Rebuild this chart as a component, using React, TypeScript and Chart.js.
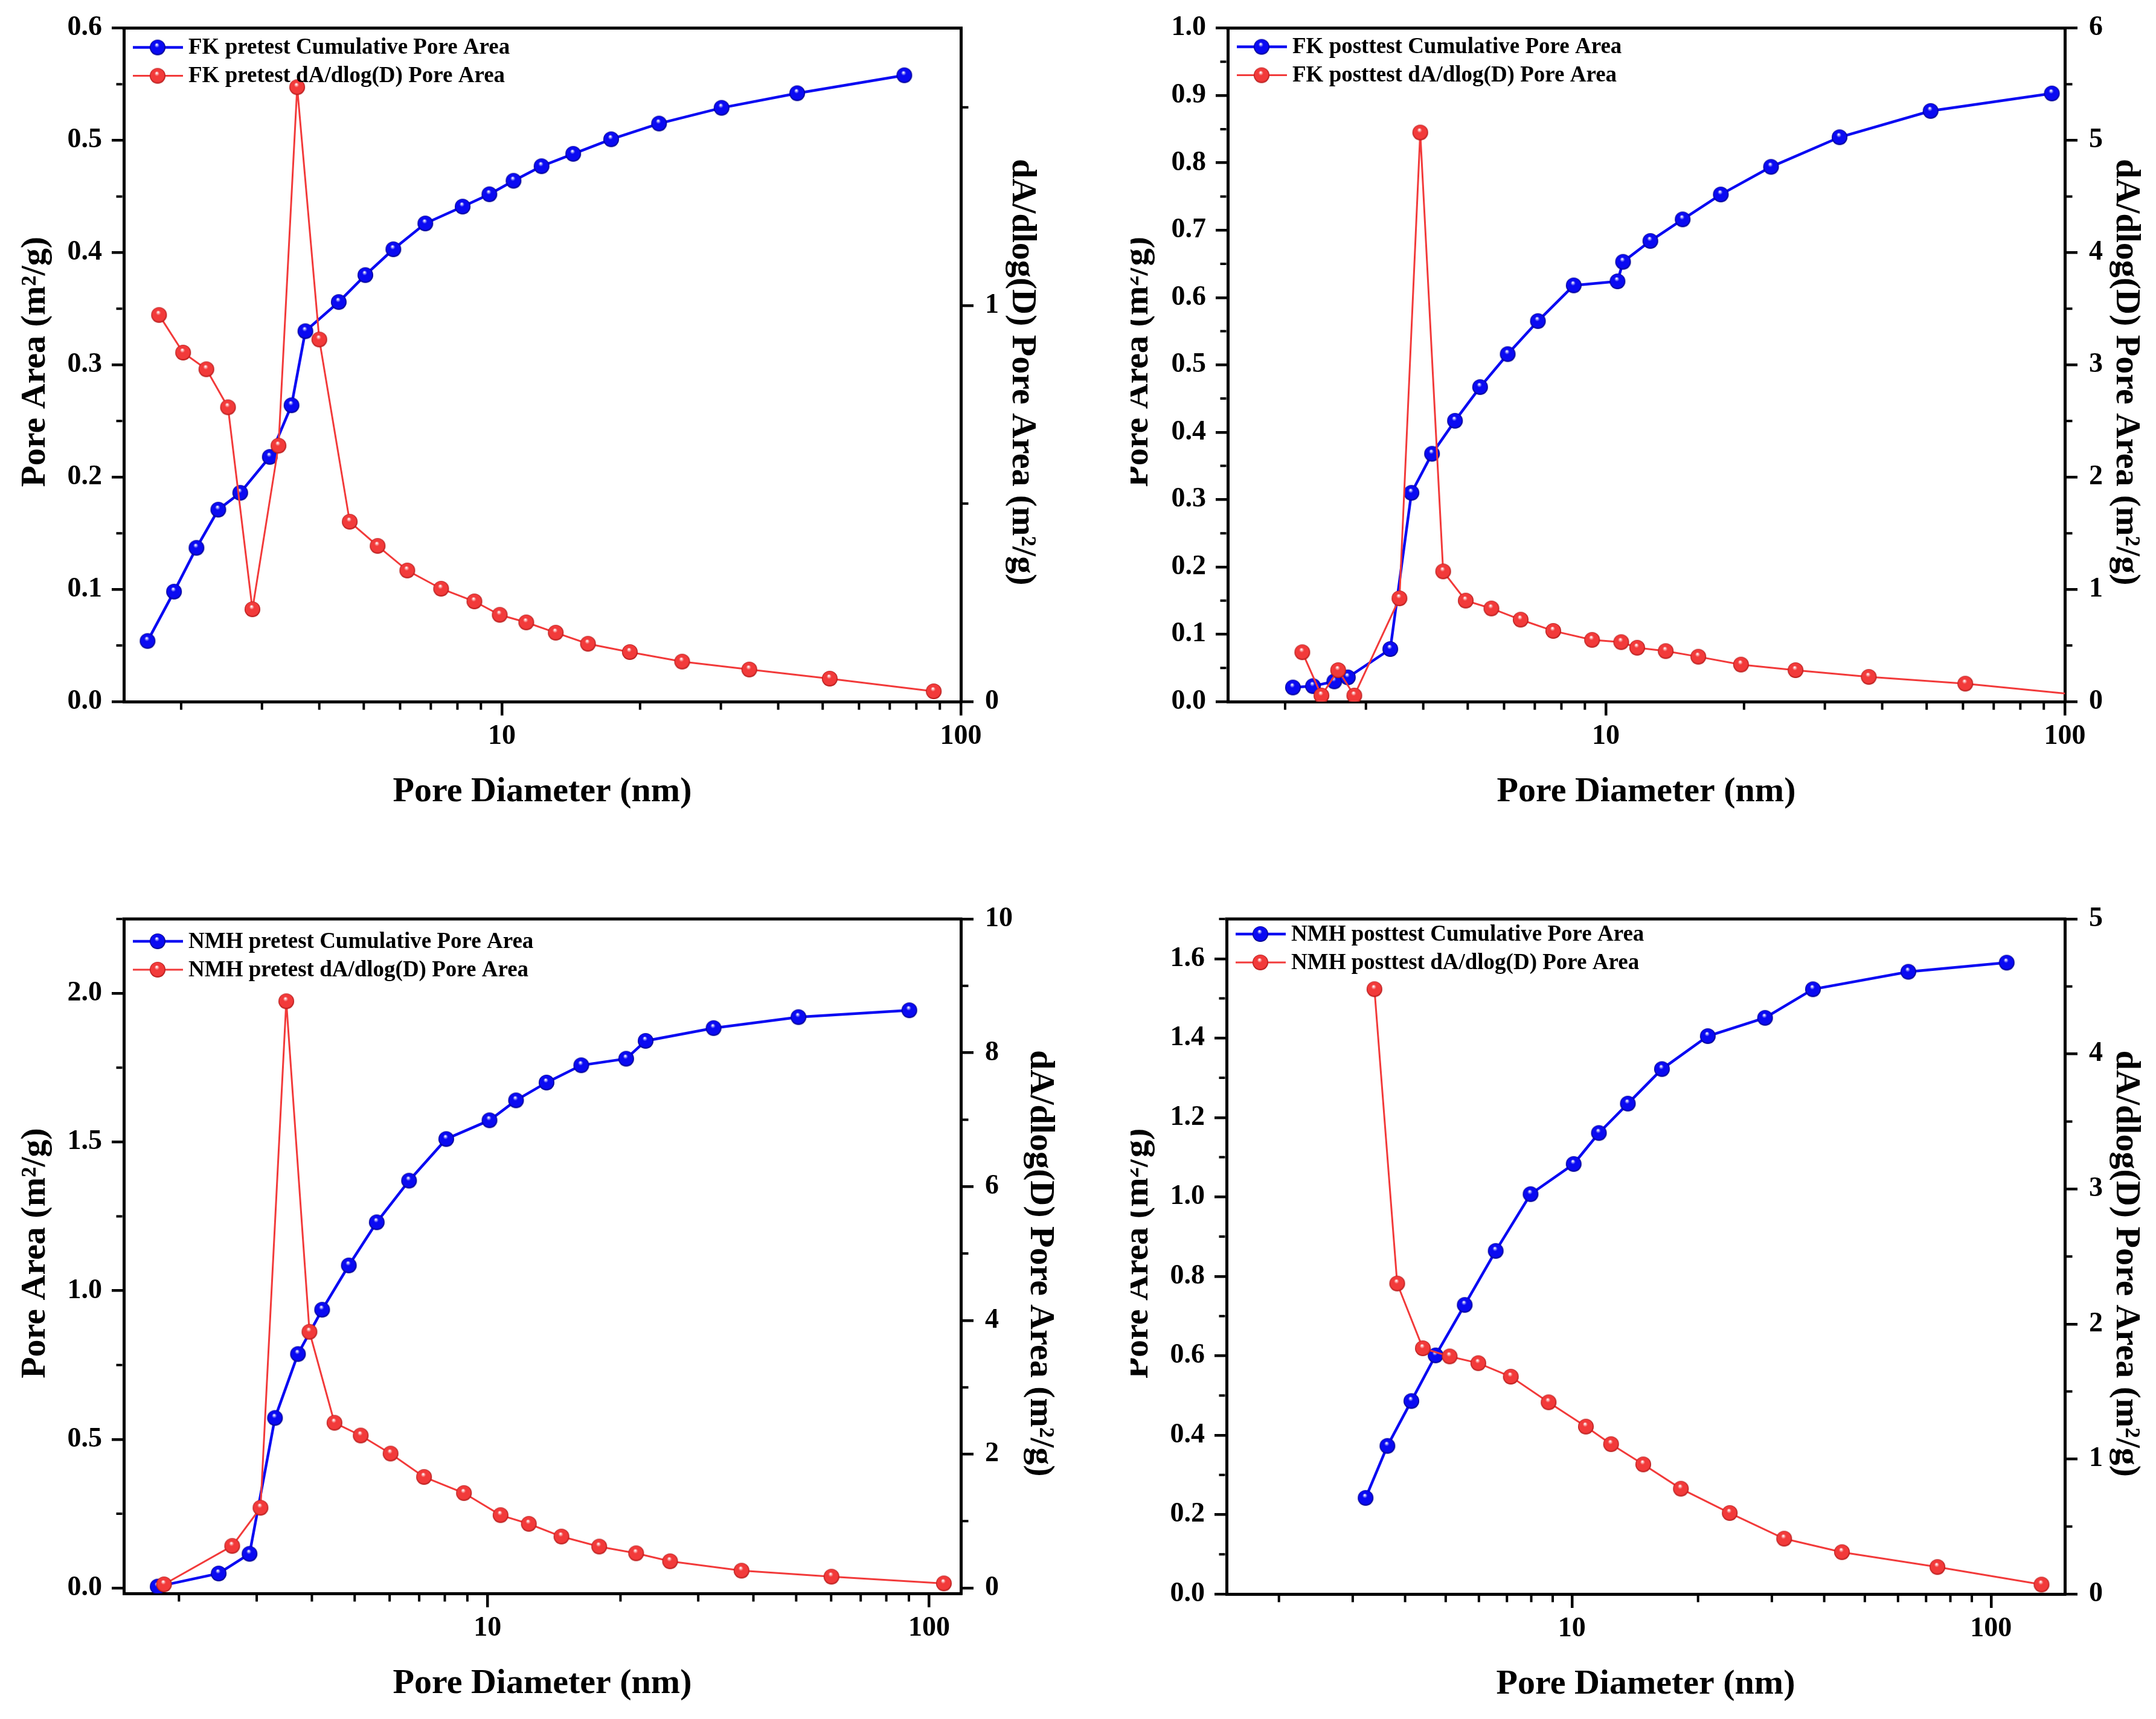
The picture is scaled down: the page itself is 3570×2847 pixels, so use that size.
import React, { useEffect, useRef } from 'react';
import { Chart, registerables } from 'chart.js';

Chart.register(...registerables);

const FONT = "'Liberation Serif', 'Times New Roman', Times, serif";
const BLUE = '#0a0af2';
const BLUE_DARK = '#00007a';
const RED = '#f23a3a';
const RED_DARK = '#a81414';

// ---------- Tick labels ----------
const X_MAJOR_TICKS = [10, 100];
const X_MINOR_TICKS = [2, 3, 4, 5, 6, 7, 8, 9, 20, 30, 40, 50, 60, 70, 80, 90];
const X_TITLE = 'Pore Diameter (nm)';
const Y_TITLE = 'Pore Area (m\u00B2/g)';
const Y1_TITLE = 'dA/dlog(D) Pore Area (m\u00B2/g)';

// ---------- FK pretest ----------
const fkPreCumX = [1.69, 1.93, 2.16, 2.41, 2.69, 3.12, 3.48, 3.73, 4.41, 5.04, 5.8, 6.81, 8.21, 9.39, 10.6, 12.2, 14.3, 17.3, 22.0, 30.1, 44.0, 75.3];
const fkPreCumY = [0.054, 0.098, 0.137, 0.171, 0.186, 0.218, 0.264, 0.33, 0.356, 0.38, 0.403, 0.426, 0.441, 0.452, 0.464, 0.477, 0.488, 0.501, 0.515, 0.529, 0.542, 0.558];
const fkPreDifX = [1.79, 2.02, 2.27, 2.53, 2.86, 3.26, 3.58, 4.0, 4.66, 5.36, 6.22, 7.37, 8.71, 9.89, 11.3, 13.1, 15.4, 19.0, 24.7, 34.6, 51.8, 87.3];
const fkPreDifY = [0.976, 0.881, 0.839, 0.743, 0.233, 0.646, 1.551, 0.914, 0.454, 0.393, 0.331, 0.285, 0.253, 0.219, 0.2, 0.174, 0.146, 0.125, 0.101, 0.081, 0.058, 0.026];

// ---------- FK posttest ----------
const fkPostCumX = [2.08, 2.3, 2.56, 2.74, 3.39, 3.77, 4.18, 4.69, 5.32, 6.11, 7.11, 8.51, 10.6, 10.9, 12.5, 14.7, 17.8, 22.9, 32.3, 51.0, 93.7];
const fkPostCumY = [0.021, 0.023, 0.03, 0.036, 0.078, 0.31, 0.368, 0.417, 0.467, 0.516, 0.565, 0.618, 0.624, 0.653, 0.684, 0.716, 0.753, 0.794, 0.838, 0.877, 0.903];
const fkPostDifX = [2.18, 2.4, 2.61, 2.83, 3.55, 3.94, 4.42, 4.95, 5.63, 6.52, 7.68, 9.33, 10.8, 11.7, 13.5, 15.9, 19.7, 25.9, 37.4, 60.7, 112];
const fkPostDifY = [0.44, 0.054, 0.28, 0.054, 0.92, 5.07, 1.16, 0.9, 0.83, 0.73, 0.63, 0.55, 0.53, 0.48, 0.45, 0.4, 0.33, 0.28, 0.22, 0.16, 0.053];

// ---------- NMH pretest ----------
const nmhPreCumX = [1.79, 2.46, 2.89, 3.3, 3.72, 4.22, 4.85, 5.61, 6.64, 8.06, 10.1, 11.6, 13.6, 16.3, 20.6, 22.8, 32.5, 50.6, 90.2];
const nmhPreCumY = [0.005, 0.049, 0.115, 0.572, 0.787, 0.936, 1.085, 1.23, 1.37, 1.51, 1.573, 1.64, 1.7, 1.758, 1.78, 1.84, 1.883, 1.92, 1.943];
const nmhPreDifX = [1.85, 2.64, 3.06, 3.5, 3.95, 4.5, 5.16, 6.03, 7.18, 8.84, 10.7, 12.4, 14.7, 17.9, 21.7, 25.9, 37.6, 60.1, 108];
const nmhPreDifY = [0.055, 0.63, 1.2, 8.77, 3.83, 2.47, 2.28, 2.01, 1.66, 1.42, 1.09, 0.96, 0.77, 0.62, 0.52, 0.4, 0.26, 0.17, 0.07];

// ---------- NMH posttest ----------
const nmhPostCumX = [3.22, 3.63, 4.14, 4.73, 5.55, 6.58, 7.97, 10.1, 11.6, 13.6, 16.4, 21.1, 28.9, 37.6, 63.5, 109];
const nmhPostCumY = [0.242, 0.373, 0.486, 0.601, 0.728, 0.864, 1.007, 1.083, 1.161, 1.235, 1.322, 1.405, 1.451, 1.523, 1.567, 1.59];
const nmhPostDifX = [3.38, 3.83, 4.41, 5.11, 5.98, 7.15, 8.8, 10.8, 12.4, 14.8, 18.2, 23.8, 32.1, 44.1, 74.5, 132];
const nmhPostDifY = [4.48, 2.3, 1.82, 1.76, 1.71, 1.61, 1.42, 1.24, 1.11, 0.96, 0.78, 0.6, 0.41, 0.31, 0.2, 0.07];

type Panel = {
  cx: number; cy: number; cw: number; ch: number;
  pl: number; pr: number; pt: number; pb: number;
  xMin: number; xMax: number;
  yMin: number; yMax: number; yStep: number; yMinor: number; yDec: number;
  y1Min: number; y1Max: number; y1Step: number; y1Minor: number;
  cumLabel: string; difLabel: string;
  cumX: number[]; cumY: number[]; difX: number[]; difY: number[];
  legendRows: [number, number];
  leftTitleOff: number;
  rightTitleOff: number;
};

const PANELS: Panel[] = [
  {
    cx: 0, cy: 0, cw: 1785, ch: 1423, pl: 205, pr: 1591, pt: 46, pb: 1162,
    xMin: 1.5, xMax: 100,
    yMin: 0, yMax: 0.6, yStep: 0.1, yMinor: 0.05, yDec: 1,
    y1Min: 0, y1Max: 1.7, y1Step: 1, y1Minor: 0.5,
    cumLabel: 'FK pretest Cumulative Pore Area', difLabel: 'FK pretest dA/dlog(D) Pore Area',
    cumX: fkPreCumX, cumY: fkPreCumY, difX: fkPreDifX, difY: fkPreDifY,
    legendRows: [32, 79], leftTitleOff: 131, rightTitleOff: 86,
  },
  {
    cx: 1872, cy: 0, cw: 1698, ch: 1423, pl: 2033, pr: 3419, pt: 46, pb: 1162,
    xMin: 1.5, xMax: 100,
    yMin: 0, yMax: 1.0, yStep: 0.1, yMinor: 0.05, yDec: 1,
    y1Min: 0, y1Max: 6, y1Step: 1, y1Minor: 0.5,
    cumLabel: 'FK posttest Cumulative Pore Area', difLabel: 'FK posttest dA/dlog(D) Pore Area',
    cumX: fkPostCumX, cumY: fkPostCumY, difX: fkPostDifX, difY: fkPostDifY,
    legendRows: [31, 78], leftTitleOff: 133, rightTitleOff: 86,
  },
  {
    cx: 0, cy: 1423, cw: 1785, ch: 1424, pl: 205, pr: 1591, pt: 1522, pb: 2639,
    xMin: 1.5, xMax: 118,
    yMin: -0.018, yMax: 2.25, yStep: 0.5, yMinor: 0.25, yDec: 1,
    y1Min: -0.08, y1Max: 10, y1Step: 2, y1Minor: 1,
    cumLabel: 'NMH pretest Cumulative Pore Area', difLabel: 'NMH pretest dA/dlog(D) Pore Area',
    cumX: nmhPreCumX, cumY: nmhPreCumY, difX: nmhPreDifX, difY: nmhPreDifY,
    legendRows: [37, 84], leftTitleOff: 131, rightTitleOff: 116,
  },
  {
    cx: 1872, cy: 1423, cw: 1698, ch: 1424, pl: 2031, pr: 3419, pt: 1522, pb: 2640,
    xMin: 1.5, xMax: 150,
    yMin: 0, yMax: 1.7, yStep: 0.2, yMinor: 0.1, yDec: 1,
    y1Min: 0, y1Max: 5, y1Step: 1, y1Minor: 0.5,
    cumLabel: 'NMH posttest Cumulative Pore Area', difLabel: 'NMH posttest dA/dlog(D) Pore Area',
    cumX: nmhPostCumX, cumY: nmhPostCumY, difX: nmhPostDifX, difY: nmhPostDifY,
    legendRows: [25, 72], leftTitleOff: 131, rightTitleOff: 86,
  },
];

function sphere(color: string, dark: string, r: number): HTMLCanvasElement {
  const s = Math.ceil(r * 2 + 2);
  const c = document.createElement('canvas');
  c.width = s;
  c.height = s;
  const ctx = c.getContext('2d')!;
  const cx = s / 2;
  const cy = s / 2;
  const g = ctx.createRadialGradient(cx - r * 0.12, cy - r * 0.38, r * 0.04, cx, cy, r);
  g.addColorStop(0, '#ffffff');
  g.addColorStop(0.28, color);
  g.addColorStop(0.82, color);
  g.addColorStop(1, dark);
  ctx.fillStyle = g;
  ctx.beginPath();
  ctx.arc(cx, cy, r, 0, Math.PI * 2);
  ctx.fill();
  return c;
}

function stepValues(min: number, max: number, step: number): number[] {
  const out: number[] = [];
  const start = Math.ceil(min / step - 1e-9);
  for (let k = start; k * step <= max + 1e-9; k++) out.push(Math.round(k * step * 1e6) / 1e6);
  return out;
}

function minorValues(min: number, max: number, minor: number, major: number): number[] {
  return stepValues(min, max, minor).filter((v) => Math.abs(v / major - Math.round(v / major)) > 1e-6);
}

const AXIS_W = 5;

function buildConfig(p: Panel): any {
  const lpl = p.pl - p.cx;
  const lpr = p.pr - p.cx;
  const lpt = p.pt - p.cy;
  const lpb = p.pb - p.cy;
  const blueBall = sphere(BLUE, BLUE_DARK, 13);
  const redBall = sphere(RED, RED_DARK, 13);
  const tickFont = { family: FONT, size: 46, weight: 'bold' as const };

  const yMajor = stepValues(p.yMin, p.yMax, p.yStep);
  const y1Major = stepValues(p.y1Min, p.y1Max, p.y1Step);
  const yMinorT = minorValues(p.yMin, p.yMax, p.yMinor, p.yStep);
  const y1MinorT = minorValues(p.y1Min, p.y1Max, p.y1Minor, p.y1Step);
  const xMajor = X_MAJOR_TICKS.filter((v) => v >= p.xMin && v <= p.xMax);
  const xMinorT = X_MINOR_TICKS.filter((v) => v > p.xMin && v < p.xMax);

  const grid = (len: number) => ({
    display: true,
    drawOnChartArea: false,
    drawTicks: true,
    tickLength: len,
    lineWidth: 4.5,
    tickWidth: 4.5,
    color: '#000',
    tickColor: '#000',
  });
  const border = { display: true, color: '#000', width: AXIS_W };

  const decor = {
    id: 'decor' + p.cx + '_' + p.cy,
    afterDraw(chart: any) {
      const ctx = chart.ctx as CanvasRenderingContext2D;
      const a = chart.chartArea;
      const sx = chart.scales.x;
      const sy = chart.scales.y;
      const sy1 = chart.scales.y1;
      ctx.save();
      ctx.strokeStyle = '#000';
      // top frame
      ctx.lineWidth = AXIS_W;
      ctx.beginPath();
      ctx.moveTo(a.left - AXIS_W / 2, a.top);
      ctx.lineTo(a.right + AXIS_W / 2, a.top);
      ctx.stroke();
      // minor ticks
      ctx.lineWidth = 4;
      ctx.beginPath();
      for (const v of xMinorT) {
        const px = sx.getPixelForValue(v);
        ctx.moveTo(px, a.bottom + AXIS_W / 2);
        ctx.lineTo(px, a.bottom + AXIS_W / 2 + 11);
      }
      for (const v of yMinorT) {
        const py = sy.getPixelForValue(v);
        ctx.moveTo(a.left - AXIS_W / 2, py);
        ctx.lineTo(a.left - AXIS_W / 2 - 10, py);
      }
      for (const v of y1MinorT) {
        const py = sy1.getPixelForValue(v);
        ctx.moveTo(a.right + AXIS_W / 2, py);
        ctx.lineTo(a.right + AXIS_W / 2 + 10, py);
      }
      ctx.stroke();

      // legend
      const ds = chart.data.datasets;
      const rows = [
        { d: ds[1], y: a.top + p.legendRows[0], img: blueBall },
        { d: ds[0], y: a.top + p.legendRows[1], img: redBall },
      ];
      ctx.font = `bold 37px ${FONT}`;
      ctx.textAlign = 'left';
      ctx.textBaseline = 'middle';
      for (const r of rows) {
        ctx.strokeStyle = r.d.borderColor;
        ctx.lineWidth = r.d.borderWidth;
        ctx.beginPath();
        ctx.moveTo(a.left + 15, r.y);
        ctx.lineTo(a.left + 98, r.y);
        ctx.stroke();
        ctx.drawImage(r.img, a.left + 56 - r.img.width / 2, r.y - r.img.height / 2);
        ctx.fillStyle = '#000';
        ctx.fillText(r.d.label, a.left + 107, r.y + 1);
      }

      // axis titles
      ctx.fillStyle = '#000';
      ctx.font = `bold 58px ${FONT}`;
      ctx.textAlign = 'center';
      ctx.textBaseline = 'middle';
      ctx.fillText(X_TITLE, (a.left + a.right) / 2, a.bottom + 150);

      const cyMid = (a.top + a.bottom) / 2;
      ctx.textBaseline = 'alphabetic';
      ctx.save();
      ctx.translate(a.left - p.leftTitleOff, cyMid - 5);
      ctx.rotate(-Math.PI / 2);
      ctx.fillText(Y_TITLE, 0, 0);
      ctx.restore();

      ctx.save();
      ctx.translate(a.right + p.rightTitleOff, cyMid + 12);
      ctx.rotate(Math.PI / 2);
      ctx.fillText(Y1_TITLE, 0, 0);
      ctx.restore();

      ctx.restore();
    },
  };

  return {
    type: 'line',
    data: {
      datasets: [
        {
          label: p.difLabel,
          data: p.difX.map((x, i) => ({ x, y: p.difY[i] })),
          yAxisID: 'y1',
          borderColor: RED,
          backgroundColor: RED,
          borderWidth: 3,
          pointStyle: redBall,
          pointRadius: 13,
          tension: 0,
          order: 1,
        },
        {
          label: p.cumLabel,
          data: p.cumX.map((x, i) => ({ x, y: p.cumY[i] })),
          yAxisID: 'y',
          borderColor: BLUE,
          backgroundColor: BLUE,
          borderWidth: 4.5,
          pointStyle: blueBall,
          pointRadius: 13,
          tension: 0,
          order: 2,
        },
      ],
    },
    options: {
      animation: false,
      responsive: false,
      devicePixelRatio: 1,
      events: [],
      layout: { padding: { top: lpt, left: 0, right: 0, bottom: 0 } },
      plugins: { legend: { display: false }, title: { display: false }, tooltip: { enabled: false } },
      scales: {
        x: {
          type: 'logarithmic',
          position: 'bottom',
          min: p.xMin,
          max: p.xMax,
          afterBuildTicks: (s: any) => {
            s.ticks = xMajor.map((v) => ({ value: v }));
          },
          afterFit: (s: any) => {
            s.height = p.ch - lpb;
          },
          ticks: {
            callback: (v: any) => String(v),
            font: tickFont,
            color: '#000',
            padding: 8,
            maxRotation: 0,
            autoSkip: false,
          },
          grid: grid(23),
          border,
        },
        y: {
          type: 'linear',
          position: 'left',
          min: p.yMin,
          max: p.yMax,
          afterBuildTicks: (s: any) => {
            s.ticks = yMajor.map((v) => ({ value: v }));
          },
          afterFit: (s: any) => {
            s.width = lpl;
          },
          ticks: {
            callback: (v: any) => Number(v).toFixed(p.yDec),
            font: tickFont,
            color: '#000',
            padding: 16,
            autoSkip: false,
          },
          grid: grid(20),
          border,
        },
        y1: {
          type: 'linear',
          position: 'right',
          min: p.y1Min,
          max: p.y1Max,
          afterBuildTicks: (s: any) => {
            s.ticks = y1Major.map((v) => ({ value: v }));
          },
          afterFit: (s: any) => {
            s.width = p.cw - lpr;
          },
          ticks: {
            callback: (v: any) => Number(v).toFixed(0),
            font: tickFont,
            color: '#000',
            padding: 19,
            autoSkip: false,
          },
          grid: grid(21),
          border,
        },
      },
    },
    plugins: [decor],
  };
}

function PanelChart({ p }: { p: Panel }) {
  const ref = useRef<HTMLCanvasElement>(null);
  useEffect(() => {
    const canvas = ref.current;
    if (!canvas) return;
    const chart = new Chart(canvas, buildConfig(p));
    return () => chart.destroy();
  }, [p]);
  return (
    <canvas
      ref={ref}
      width={p.cw}
      height={p.ch}
      style={{ position: 'absolute', left: p.cx, top: p.cy, width: p.cw, height: p.ch, display: 'block' }}
    />
  );
}

export default function App() {
  return (
    <div
      style={{
        position: 'absolute',
        left: 0,
        top: 0,
        width: 3570,
        height: 2847,
        background: '#ffffff',
        overflow: 'hidden',
      }}
    >
      {PANELS.map((p, i) => (
        <PanelChart key={i} p={p} />
      ))}
    </div>
  );
}
